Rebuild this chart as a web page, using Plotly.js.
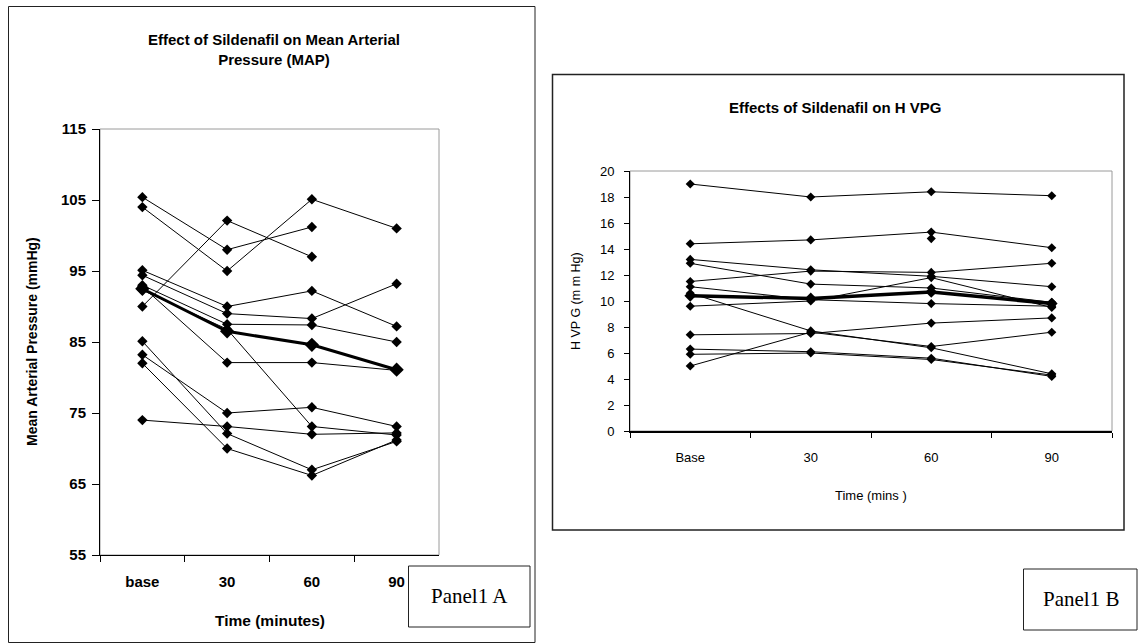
<!DOCTYPE html>
<html><head><meta charset="utf-8">
<script src="https://cdn.plot.ly/plotly-3.0.1.min.js"></script>
<style>html,body{margin:0;padding:0;background:#fff}#c{width:1142px;height:644px}</style>
</head><body><div id="c"></div>
<script>
// ---------- Panel A: Mean Arterial Pressure ----------
const mapCategories = ['base', '30', '60', '90'];
const mapP1  = [105.4, 98.0, 101.2, null];
const mapP2  = [104.0, 95.0, 105.1, 101.0];
const mapP3  = [90.0, 102.1, 97.0, null];
const mapP4  = [95.1, 90.0, 92.2, 87.2];
const mapP5  = [94.4, 89.0, 88.3, 93.2];
const mapP6  = [93.0, 87.5, 87.4, 85.0];
const mapP7  = [92.3, 86.8, 73.1, 71.9];
const mapP8  = [92.8, 82.1, 82.1, 81.0];
const mapP9  = [85.1, 72.1, 67.0, 71.0];
const mapP10 = [83.2, 75.0, 75.8, 73.1];
const mapP11 = [82.0, 70.0, 66.2, 71.2];
const mapP12 = [74.0, 73.1, 72.0, 72.2];
const mapMean = [92.5, 86.5, 84.6, 81.1];
const mapPatients = [mapP1, mapP2, mapP3, mapP4, mapP5, mapP6, mapP7, mapP8, mapP9, mapP10, mapP11, mapP12];

// ---------- Panel B: HVPG ----------
const hvpgCategories = ['Base', '30', '60', '90'];
const hvP1  = [19.0, 18.0, 18.4, 18.1];
const hvP2  = [14.4, 14.7, 15.3, 14.1];
const hvP3  = [13.2, 12.4, 11.9, 11.1];
const hvP4  = [11.5, 12.3, 12.2, 12.9];
const hvP5  = [12.9, 11.3, 11.0, 9.9];
const hvP6  = [11.1, 10.1, 9.8, 9.6];
const hvP7  = [10.6, 7.7, 6.4, 4.4];
const hvP8  = [9.6, 10.0, 11.8, 9.5];
const hvP9  = [7.4, 7.5, 8.3, 8.7];
const hvP10 = [5.0, 7.6, 6.5, 7.6];
const hvP11 = [6.3, 6.1, 5.6, 4.2];
const hvP12 = [5.9, 6.0, 5.5, 4.3];
const hvP13 = [null, null, 14.8, null];
const hvpgMean = [10.4, 10.2, 10.7, 9.8];
const hvpgPatients = [hvP1, hvP2, hvP3, hvP4, hvP5, hvP6, hvP7, hvP8, hvP9, hvP10, hvP11, hvP12, hvP13];

const W = 1142, H = 644;
const px = v => v / W;
const py = v => 1 - v / H;

const traces = [];
mapPatients.forEach(p => traces.push({
  x: mapCategories, y: p, xaxis: 'x', yaxis: 'y', type: 'scatter', mode: 'lines+markers',
  line: {color: '#000', width: 1}, marker: {symbol: 'diamond', size: 8, color: '#000'},
  connectgaps: false, showlegend: false, hoverinfo: 'skip'
}));
traces.push({
  x: mapCategories, y: mapMean, xaxis: 'x', yaxis: 'y', type: 'scatter', mode: 'lines+markers',
  line: {color: '#000', width: 3}, marker: {symbol: 'diamond', size: 11, color: '#000'},
  showlegend: false, hoverinfo: 'skip'
});
hvpgPatients.forEach(p => traces.push({
  x: hvpgCategories, y: p, xaxis: 'x2', yaxis: 'y2', type: 'scatter', mode: 'lines+markers',
  line: {color: '#000', width: 1}, marker: {symbol: 'diamond', size: 7, color: '#000'},
  connectgaps: false, showlegend: false, hoverinfo: 'skip'
}));
traces.push({
  x: hvpgCategories, y: hvpgMean, xaxis: 'x2', yaxis: 'y2', type: 'scatter', mode: 'lines+markers',
  line: {color: '#000', width: 3.5}, marker: {symbol: 'diamond', size: 9, color: '#000'},
  showlegend: false, hoverinfo: 'skip'
});

const famA = 'Liberation Sans, Arial, sans-serif';
const famB = 'Liberation Sans Narrow, Liberation Sans, Arial, sans-serif';
const narrowB = {family: famB, size: 13, color: '#000'};

const layout = {
  width: W, height: H, margin: {l: 0, r: 0, t: 0, b: 0},
  paper_bgcolor: '#fff', plot_bgcolor: 'rgba(0,0,0,0)', showlegend: false,
  xaxis: {
    domain: [px(100), px(439)], anchor: 'y', type: 'category', range: [-0.5, 3.5],
    tickson: 'boundaries', ticks: 'outside', ticklen: 6, tickcolor: '#000', tickwidth: 1,
    showline: true, linecolor: '#000', linewidth: 1, showgrid: false, zeroline: false,
    tickfont: {family: famA, size: 15, color: '#000', weight: 'bold'}, ticklabelstandoff: 13,
    fixedrange: true
  },
  yaxis: {
    domain: [py(555), py(129)], anchor: 'x', range: [55, 115], tick0: 55, dtick: 10,
    ticks: 'outside', ticklen: 7, tickcolor: '#000', showline: true, linecolor: '#000', linewidth: 1,
    showgrid: false, zeroline: false,
    tickfont: {family: famA, size: 15, color: '#000', weight: 'bold'}, ticklabelstandoff: 3,
    fixedrange: true
  },
  xaxis2: {
    domain: [px(630), px(1112)], anchor: 'y2', type: 'category', range: [-0.5, 3.5],
    tickson: 'boundaries', ticks: 'outside', ticklen: 5, tickcolor: '#000', tickwidth: 1,
    showline: true, linecolor: '#000', linewidth: 1.5, showgrid: false, zeroline: false,
    tickfont: narrowB, ticklabelstandoff: 14, fixedrange: true
  },
  yaxis2: {
    domain: [py(431), py(171)], anchor: 'x2', range: [0, 20], tick0: 0, dtick: 2,
    ticks: 'outside', ticklen: 5, tickcolor: '#000', showline: true, linecolor: '#000', linewidth: 1,
    showgrid: false, zeroline: false, tickfont: narrowB, ticklabelstandoff: 7, fixedrange: true
  },
  shapes: [
    {type: 'rect', xref: 'x domain', yref: 'y domain', x0: 0, x1: 1, y0: 0, y1: 1, line: {color: '#9a9a9a', width: 1}, layer: 'below'},
    {type: 'rect', xref: 'x2 domain', yref: 'y2 domain', x0: 0, x1: 1, y0: 0, y1: 1, line: {color: '#9a9a9a', width: 1}, layer: 'below'},
    {type: 'rect', xref: 'paper', yref: 'paper', x0: px(8.5), x1: px(535), y0: py(642.5), y1: py(6.5), line: {color: '#222', width: 1}},
    {type: 'rect', xref: 'paper', yref: 'paper', x0: px(552.5), x1: px(1124), y0: py(530), y1: py(74.5), line: {color: '#222', width: 1.5}},
    {type: 'rect', xref: 'paper', yref: 'paper', x0: px(408.5), x1: px(530), y0: py(627), y1: py(566), line: {color: '#222', width: 1}},
    {type: 'rect', xref: 'paper', yref: 'paper', x0: px(1023.5), x1: px(1137), y0: py(630), y1: py(569), line: {color: '#222', width: 1}}
  ],
  annotations: [
    {xref: 'paper', yref: 'paper', x: px(274), y: py(49), text: 'Effect of Sildenafil on Mean Arterial<br>Pressure (MAP)',
     showarrow: false, xanchor: 'center', yanchor: 'middle', font: {family: famA, size: 15, color: '#000', weight: 'bold'}},
    {xref: 'paper', yref: 'paper', x: px(270), y: py(620), text: 'Time (minutes)', showarrow: false,
     xanchor: 'center', yanchor: 'middle', font: {family: famA, size: 15.5, color: '#000', weight: 'bold'}},
    {xref: 'paper', yref: 'paper', x: px(32), y: py(342), text: 'Mean Arterial Pressure (mmHg)', showarrow: false, textangle: -90,
     xanchor: 'center', yanchor: 'middle', font: {family: famA, size: 14, color: '#000', weight: 'bold'}},
    {xref: 'paper', yref: 'paper', x: px(469), y: py(596), text: 'Panel1 A', showarrow: false,
     xanchor: 'center', yanchor: 'middle', font: {family: 'Liberation Serif, Times New Roman, serif', size: 21, color: '#000'}},
    {xref: 'paper', yref: 'paper', x: px(835), y: py(107), text: 'Effects of Sildenafil on H VPG', showarrow: false,
     xanchor: 'center', yanchor: 'middle', font: {family: famB, size: 15, color: '#000', weight: 'bold'}},
    {xref: 'paper', yref: 'paper', x: px(871), y: py(495), text: 'Time (mins )', showarrow: false,
     xanchor: 'center', yanchor: 'middle', font: {family: famB, size: 13, color: '#000'}},
    {xref: 'paper', yref: 'paper', x: px(576), y: py(301), text: 'H VP G (m m Hg)', showarrow: false, textangle: -90,
     xanchor: 'center', yanchor: 'middle', font: {family: famB, size: 12.5, color: '#000'}},
    {xref: 'paper', yref: 'paper', x: px(1081), y: py(599), text: 'Panel1 B', showarrow: false,
     xanchor: 'center', yanchor: 'middle', font: {family: 'Liberation Serif, Times New Roman, serif', size: 21, color: '#000'}}
  ]
};

Plotly.newPlot('c', traces, layout, {staticPlot: true, displayModeBar: false});
</script>
</body></html>
